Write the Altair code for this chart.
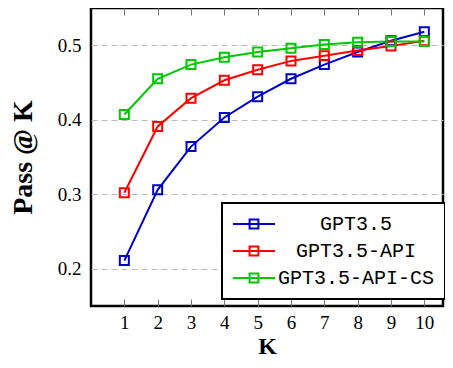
import altair as alt
import pandas as pd

K = [1, 2, 3, 4, 5, 6, 7, 8, 9, 10]
gpt35 = [0.211, 0.306, 0.364, 0.403, 0.431, 0.455, 0.474, 0.491, 0.506, 0.518]
gpt35_api = [0.302, 0.391, 0.429, 0.453, 0.467, 0.479, 0.486, 0.493, 0.499, 0.506]
gpt35_api_cs = [0.407, 0.455, 0.474, 0.484, 0.491, 0.496, 0.501, 0.504, 0.505, 0.505]
series = ["GPT3.5", "GPT3.5-API", "GPT3.5-API-CS"]
colors = ["#0000cc", "#ff0000", "#00c800"]
y_ticks = [0.2, 0.3, 0.4, 0.5]

rows = []
for name, vals in zip(series, [gpt35, gpt35_api, gpt35_api_cs]):
    for k, v in zip(K, vals):
        rows.append({"K": k, "value": v, "series": name})
df = pd.DataFrame(rows)

serif = "Liberation Serif"
xs = alt.Scale(domain=[0, 10.56], nice=False, zero=False)
ys = alt.Scale(domain=[0.15, 0.55], nice=False, zero=False)

sym = "M-1,0H1M-0.21,-0.21H0.21V0.21H-0.21Z"

lines = alt.Chart(df).mark_line(
    strokeWidth=2,
    point=alt.OverlayMarkDef(shape="square", filled=False, size=81, strokeWidth=2),
).encode(
    x=alt.X("K:Q", scale=xs, axis=alt.Axis(
        values=K, title="K", grid=False, domain=False, offset=-7, tickSize=7,
        tickColor="#777", labelFont=serif, labelFontSize=19, labelColor="black",
        labelPadding=7, titleFont=serif, titleFontSize=24, titleFontWeight="bold",
        titleColor="black", titlePadding=2, labelFlush=False)),
    y=alt.Y("value:Q", scale=ys, axis=alt.Axis(
        values=y_ticks, format=".1f", title="Pass @ K", grid=True, gridDash=[6, 4],
        gridColor="#bbbbbb", gridWidth=1, ticks=False, domain=False,
        labelFont=serif, labelFontSize=19, labelColor="black", labelPadding=10,
        titleFont=serif, titleFontSize=28, titleFontWeight="bold",
        titleColor="black", titlePadding=20)),
    color=alt.Color("series:N", scale=alt.Scale(domain=series, range=colors),
                    legend=alt.Legend(
                        title=None, orient="none", legendX=131, legendY=195,
                        symbolType=sym, symbolSize=1764, symbolStrokeWidth=2,
                        symbolFillColor="transparent", clipHeight=22,
                        labelFont="Liberation Mono", labelFontSize=20,
                        labelColor="black", labelAlign="center", labelOffset=80,
                        rowPadding=5, padding=10, strokeColor="black",
                        fillColor="white", labelLimit=400)),
)

top = alt.Chart(df).mark_point(opacity=0).encode(
    x=alt.X("K:Q", scale=xs, axis=alt.Axis(
        orient="top", values=K, labels=False, title=None, grid=False,
        domain=False, offset=-7, tickSize=7, tickColor="#777")),
    y=alt.Y("value:Q", scale=ys),
)

chart = alt.layer(lines, top).resolve_axis(x="independent").properties(
    width=352, height=298,
    padding={"left": 83, "top": 0, "right": 2, "bottom": 54},
    autosize=alt.AutoSizeParams(type="none"),
).configure_view(stroke="black", strokeWidth=2.5).configure_legend(
    strokeWidth=2, cornerRadius=0)

chart.save("out.html", embed_options={"renderer": "svg", "actions": False})
